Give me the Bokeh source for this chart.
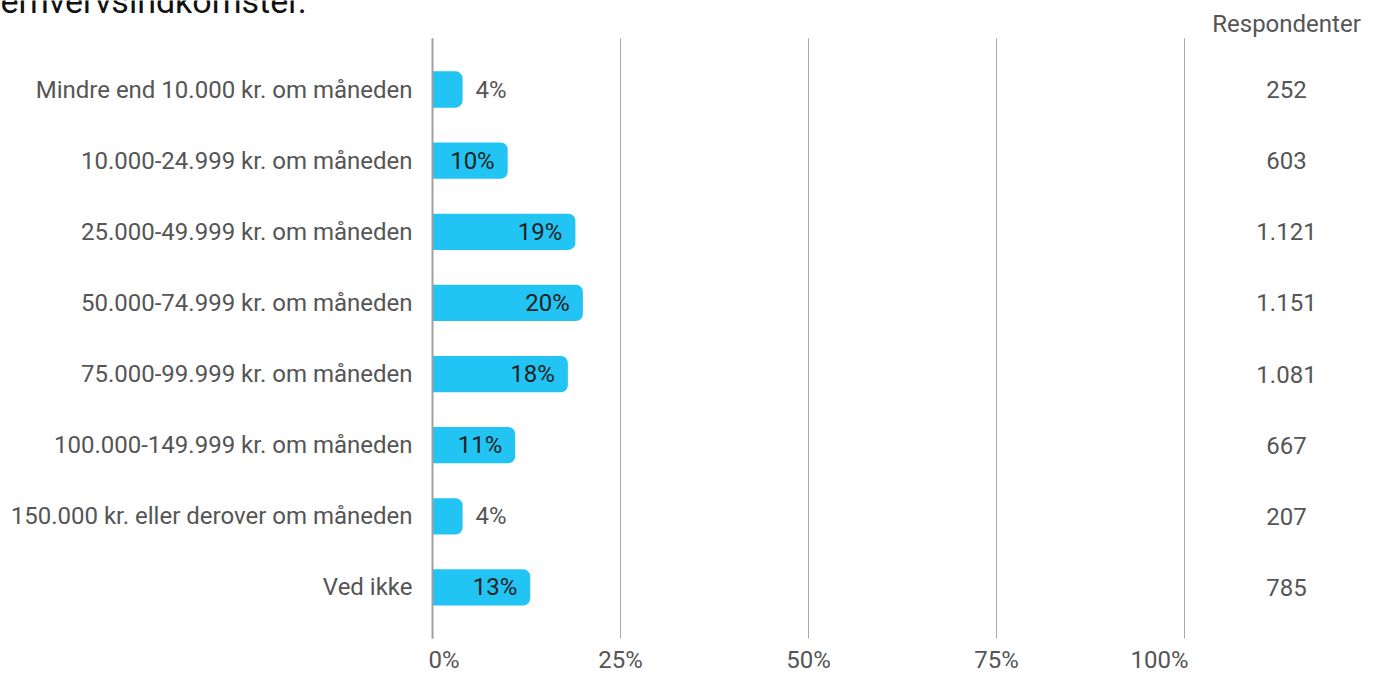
from bokeh.plotting import figure
from bokeh.models import Range1d
from bokeh.core.properties import value
from bokeh.embed import file_html
from bokeh.resources import INLINE

# ---- data ----
categories = [
    "Mindre end 10.000 kr. om måneden",
    "10.000-24.999 kr. om måneden",
    "25.000-49.999 kr. om måneden",
    "50.000-74.999 kr. om måneden",
    "75.000-99.999 kr. om måneden",
    "100.000-149.999 kr. om måneden",
    "150.000 kr. eller derover om måneden",
    "Ved ikke",
]
percent = [4, 10, 19, 20, 18, 11, 4, 13]
respondents = [252, 603, 1121, 1151, 1081, 667, 207, 785]
x_ticks = [0, 25, 50, 75, 100]
x_tick_labels = ["0%", "25%", "50%", "75%", "100%"]
title_text = "erhvervsindkomster."
count_header = "Respondenter"

# ---- layout / style ----
W, H = 1370, 673
X0_PX, X100_PX = 432, 1184          # pixel positions of 0% and 100%
ROW0_PX, ROW_STEP = 89, 71.14       # pixel centre of first row, row spacing
PAD = 0.72                          # row padding above first / below last row
FONT = value("Roboto")
BAR = "#22c4f3"
GRAY = "#555555"

ppu = (X100_PX - X0_PX) / 100.0
x_lo, x_hi = -X0_PX / ppu, (W - X0_PX) / ppu
y_top, y_bot = -ROW0_PX / ROW_STEP, (H - ROW0_PX) / ROW_STEP

n = len(categories)
idx = list(range(n))
g_top, g_bot = -PAD, (n - 1) + PAD


def px_y(dy):  # pixel distance -> data units in y
    return dy / ROW_STEP


p = figure(width=W, height=H,
           x_range=Range1d(x_lo, x_hi), y_range=Range1d(y_bot, y_top),
           x_axis_type=None, y_axis_type=None,
           toolbar_location=None, output_backend="svg")
p.min_border = 0
p.outline_line_color = None
p.grid.visible = False

# grid lines
p.segment(x0=x_ticks[1:], x1=x_ticks[1:], y0=g_top, y1=g_bot,
          line_color="#aaaaaa", line_width=1)

# bars
p.hbar(y=idx, left=0, right=percent, height=0.51,
       fill_color=BAR, line_color=None, border_radius=(0, 7, 7, 0))

# zero axis line
p.segment(x0=[0], x1=[0], y0=g_top, y1=g_bot, line_color="#a0a0a0", line_width=2)

# category labels
p.text(x=0, y=idx, text=categories, x_offset=-20,
       text_align="right", text_baseline="middle",
       text_font=FONT, text_font_size="24px", text_color=GRAY)

# value labels
inside = [i for i in idx if percent[i] >= 8]
outside = [i for i in idx if percent[i] < 8]
p.text(x=[percent[i] for i in inside], y=inside,
       text=[f"{percent[i]}%" for i in inside], x_offset=-13,
       text_align="right", text_baseline="middle",
       text_font=FONT, text_font_size="24px", text_color="#222222")
p.text(x=[percent[i] for i in outside], y=outside,
       text=[f"{percent[i]}%" for i in outside], x_offset=13,
       text_align="left", text_baseline="middle",
       text_font=FONT, text_font_size="24px", text_color=GRAY)

# respondent counts
cnt = [f"{v:,}".replace(",", ".") for v in respondents]
p.text(x=100, y=idx, text=cnt, x_offset=102,
       text_align="center", text_baseline="middle",
       text_font=FONT, text_font_size="24px", text_color=GRAY)
p.text(x=[100], y=[g_top - px_y(14)], text=[count_header], x_offset=102,
       text_align="center", text_baseline="middle",
       text_font=FONT, text_font_size="24px", text_color=GRAY)

# x tick labels
tick_y = g_bot + px_y(21)
for v, lab in zip(x_ticks, x_tick_labels):
    if v == x_ticks[0]:
        al, xo = "left", -4
    elif v == x_ticks[-1]:
        al, xo = "right", 4
    else:
        al, xo = "center", 0
    p.text(x=[v], y=[tick_y], text=[lab], x_offset=xo,
           text_align=al, text_baseline="middle",
           text_font=FONT, text_font_size="24px", text_color=GRAY)

# cut-off title at top edge
p.text(x=[x_lo], y=[y_top], text=[title_text],
       text_align="left", text_baseline="alphabetic",
       text_font=FONT, text_font_size="34px", text_color="#111111")

open("out.html", "w").write(file_html(p, INLINE))
